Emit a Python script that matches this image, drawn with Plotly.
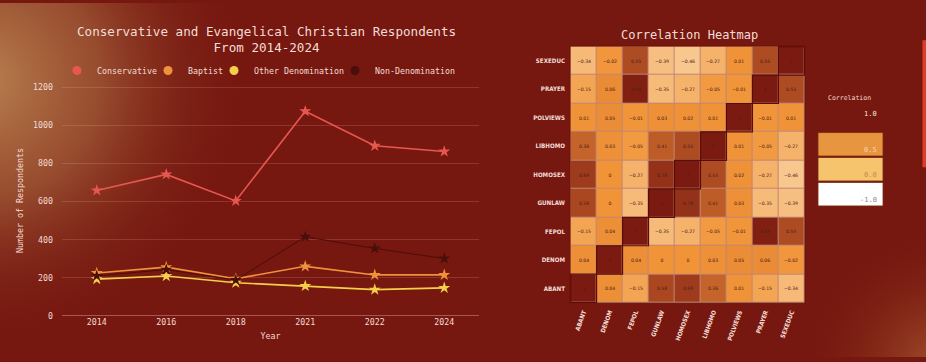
import base64
import plotly.graph_objects as go

# ---------------- data ----------------
years = ["2014", "2016", "2018", "2021", "2022", "2024"]
conservative = [658, 742, 603, 1073, 892, 862]
baptist = [225, 256, 195, 260, 215, 215]
other_denom = [193, 209, 174, 157, 138, 147]
non_denom = [210, 243, 188, 415, 354, 301]

series_names = ["Conservative", "Baptist", "Other Denomination", "Non-Denomination"]
series_values = [conservative, baptist, other_denom, non_denom]
series_colors = ["#e8574f", "#f0923c", "#f4cf4a", "#4a0e0b"]

variables = ["ABANT", "DENOM", "FEPOL", "GUNLAW", "HOMOSEX", "LIBHOMO", "POLVIEWS", "PRAYER", "SEXEDUC"]
# rows in the same order as variables (bottom -> top)
corr = [
    [1, 0.04, -0.15, 0.58, 0.69, 0.36, 0.01, -0.15, -0.34],
    [0.04, 1, 0.04, 0, 0, 0.03, 0.05, 0.06, -0.02],
    [-0.15, 0.04, 1, -0.35, -0.27, -0.05, -0.01, 0.94, 0.55],
    [0.58, 0, -0.35, 1, 0.78, 0.41, 0.03, -0.35, -0.39],
    [0.69, 0, -0.27, 0.78, 1, 0.55, 0.02, -0.27, -0.46],
    [0.36, 0.03, -0.05, 0.41, 0.55, 1, 0.01, -0.05, -0.27],
    [0.01, 0.05, -0.01, 0.03, 0.02, 0.01, 1, -0.01, 0.01],
    [-0.15, 0.06, 0.94, -0.35, -0.27, -0.05, -0.01, 1, 0.55],
    [-0.34, -0.02, 0.55, -0.39, -0.46, -0.27, 0.01, 0.55, 1],
]
legend_levels = ["1.0", "0.5", "0.0", "-1.0"]
legend_colors = ["#771810", "#e8953f", "#f5c46c", "#ffffff"]
legend_text_colors = ["#f6e4dc", "#f7d3b3", "#c48a55", "#8a8a8a"]

# ---------------- style ----------------
W, H = 926, 362
BG = "#771810"
TXT = "#f3dcd5"
MONO = "DejaVu Sans Mono"
legend_text_px = [96, 187, 253, 374]   # where each legend entry's label starts


def px_x(p):
    return p / W


def px_y(p):
    return 1 - p / H


svg = f"""<svg xmlns='http://www.w3.org/2000/svg' width='{W}' height='{H}'>
<defs>
<radialGradient id='a' gradientUnits='userSpaceOnUse' cx='-20' cy='80' r='270'>
<stop offset='0' stop-color='#b98150' stop-opacity='1'/>
<stop offset='0.45' stop-color='#9c5433' stop-opacity='0.85'/>
<stop offset='1' stop-color='{BG}' stop-opacity='0'/>
</radialGradient>
<radialGradient id='b' gradientUnits='userSpaceOnUse' cx='940' cy='370' r='140'>
<stop offset='0' stop-color='#a3502b' stop-opacity='1'/>
<stop offset='1' stop-color='{BG}' stop-opacity='0'/>
</radialGradient>
</defs>
<rect width='{W}' height='{H}' fill='{BG}'/>
<rect width='{W}' height='{H}' fill='url(#a)'/>
<rect width='{W}' height='{H}' fill='url(#b)'/>
</svg>"""
bg_uri = "data:image/svg+xml;base64," + base64.b64encode(svg.encode()).decode()

fig = go.Figure()

# line chart
for name, vals, col in zip(series_names, series_values, series_colors):
    lw = 1 if name == "Non-Denomination" else 1.6
    fig.add_trace(go.Scatter(
        x=years, y=vals, mode="lines+markers", name=name,
        line=dict(color=col, width=lw),
        marker=dict(symbol="star", size=9, color=col),
        showlegend=False, xaxis="x", yaxis="y",
    ))

legend_ids = ["legend", "legend2", "legend3", "legend4"]
for name, col, lid in zip(series_names, series_colors, legend_ids):
    fig.add_trace(go.Scatter(
        x=[None], y=[None], mode="markers", name=name,
        marker=dict(symbol="circle", size=9, color=col),
        showlegend=True, legend=lid, xaxis="x", yaxis="y",
    ))

# heatmap
colorscale = [
    [0.0, "#ffffff"],
    [0.25, "#f8cb95"],
    [0.5, "#f19438"],
    [0.75, "#b35024"],
    [1.0, "#7a1a10"],
]
fig.add_trace(go.Heatmap(
    z=corr, x=variables, y=variables, zmin=-1, zmax=1,
    colorscale=colorscale, showscale=False, xgap=1, ygap=1,
    texttemplate="%{z}", textfont=dict(size=4.6, color="#4a2015", family="DejaVu Sans"),
    xaxis="x2", yaxis="y2", hoverinfo="skip",
))

shapes = []
shapes.append(dict(type="rect", xref="x2 domain", yref="y2 domain", x0=0, x1=1, y0=0, y1=1,
                   fillcolor="rgba(255,225,200,0.55)", line=dict(width=0), layer="below"))
for i, _ in enumerate(variables):
    shapes.append(dict(type="rect", xref="x2", yref="y2", x0=i - 0.5, x1=i + 0.5,
                       y0=i - 0.5, y1=i + 0.5, fillcolor="rgba(0,0,0,0)",
                       line=dict(color="#5a0c08", width=1.2)))
shapes.append(dict(type="rect", xref="x2 domain", yref="y2 domain", x0=0, x1=1, y0=0, y1=1,
                   fillcolor="rgba(0,0,0,0)", line=dict(color="#6a1109", width=1)))

annotations = []
annotations.append(dict(text="Correlation", x=px_x(826), y=px_y(97), xref="paper", yref="paper",
                        xanchor="left", yanchor="middle", showarrow=False,
                        font=dict(family=MONO, size=6.5, color=TXT)))
box_top0, box_h, box_gap = 107, 24, 1.5
for k, (lab, col, tcol) in enumerate(zip(legend_levels, legend_colors, legend_text_colors)):
    top = box_top0 + k * (box_h + box_gap)
    shapes.append(dict(type="rect", xref="paper", yref="paper",
                       x0=px_x(818), x1=px_x(883), y0=px_y(top + box_h), y1=px_y(top),
                       fillcolor=col, line=dict(color="#7a2a12" if k else col, width=0.8)))
    annotations.append(dict(text=lab, x=px_x(879), y=px_y(top + box_h - 6 if k else top + 7),
                            xref="paper", yref="paper", xanchor="right", yanchor="middle",
                            showarrow=False, font=dict(family=MONO, size=7, color=tcol)))

shapes.append(dict(type="rect", xref="paper", yref="paper", x0=px_x(922.5), x1=1.01,
                   y0=px_y(168), y1=px_y(38), fillcolor="#d8402a", line=dict(width=0)))

annotations.append(dict(text="Conservative and Evangelical Christian Respondents<br>From 2014-2024",
                        x=px_x(266), y=px_y(37), xref="paper", yref="paper",
                        xanchor="center", yanchor="middle", showarrow=False,
                        font=dict(family=MONO, size=12.6, color=TXT)))
annotations.append(dict(text="Correlation Heatmap", x=px_x(689), y=px_y(33),
                        xref="paper", yref="paper", xanchor="center", yanchor="middle",
                        showarrow=False, font=dict(family=MONO, size=12, color=TXT)))

grid = "rgba(255,200,190,0.17)"
legend_layouts = {}
for lid, tx in zip(legend_ids, legend_text_px):
    legend_layouts[lid] = dict(orientation="h", x=px_x(tx + 1 - 40), y=px_y(69),
                               xanchor="left", yanchor="middle", bgcolor="rgba(0,0,0,0)",
                               font=dict(family=MONO, size=8.3, color=TXT), itemclick=False)

hm_tick_font = dict(family="DejaVu Sans Condensed", size=6.2, color=TXT, weight="bold")

fig.update_layout(
    width=W, height=H,
    margin=dict(l=0, r=0, t=0, b=0, pad=0),
    paper_bgcolor=BG, plot_bgcolor="rgba(0,0,0,0)",
    font=dict(family=MONO, size=8.3, color=TXT),
    images=[dict(source=bg_uri, xref="paper", yref="paper", x=0, y=1, sizex=1, sizey=1,
                 xanchor="left", yanchor="top", sizing="stretch", layer="below")],
    xaxis=dict(domain=[px_x(62), px_x(479)], type="category", range=[-0.5, 5.5],
               showgrid=False, showline=False, zeroline=False, ticks="",
               tickfont=dict(family=MONO, size=8.3, color=TXT),
               title=dict(text="Year", font=dict(family=MONO, size=8.3, color=TXT), standoff=6),
               anchor="y"),
    yaxis=dict(domain=[px_y(320), px_y(84)], range=[0, 1210], tickvals=[0, 200, 400, 600, 800, 1000, 1200],
               showgrid=True, gridcolor=grid, gridwidth=1, zeroline=True,
               zerolinecolor="rgba(255,210,200,0.35)", zerolinewidth=1, showline=False, ticks="",
               ticklabelstandoff=8,
               tickfont=dict(family=MONO, size=8.3, color=TXT),
               title=dict(text="Number of Respondents", font=dict(family=MONO, size=8.3, color=TXT),
                          standoff=8),
               anchor="x"),
    xaxis2=dict(domain=[px_x(570), px_x(805)], type="category", anchor="y2",
                showgrid=False, zeroline=False, showline=False, ticks="",
                tickangle=-70, ticklabelstandoff=3, tickfont=hm_tick_font),
    yaxis2=dict(domain=[px_y(307), px_y(44)], type="category", anchor="x2",
                showgrid=False, zeroline=False, showline=False, ticks="",
                ticklabelstandoff=4, tickfont=hm_tick_font),
    shapes=shapes, annotations=annotations,
    showlegend=True,
    **legend_layouts,
)

fig.write_html(
    "out.html",
    config={"displayModeBar": False},
    post_script="document.body.style.margin='0';document.body.style.overflow='hidden';",
)
